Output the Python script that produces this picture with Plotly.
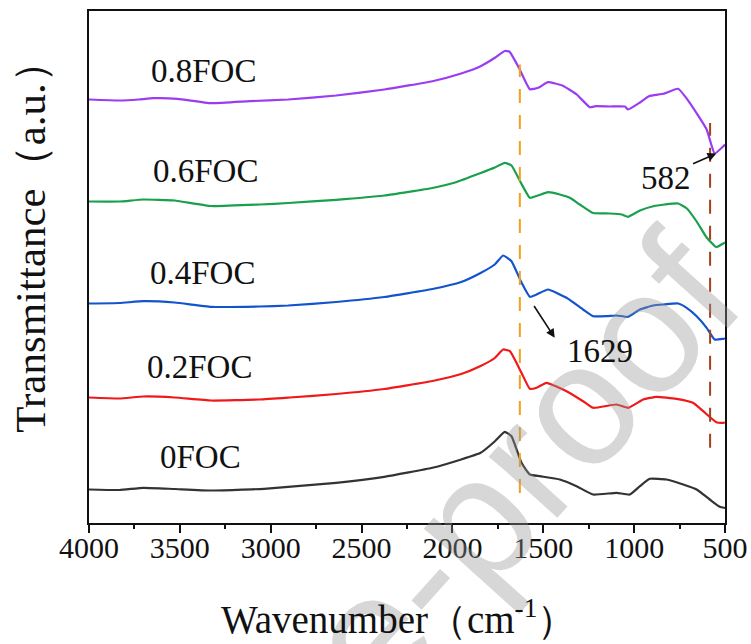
import plotly.graph_objects as go

# FTIR spectra of the FOC series, stacked with vertical offsets (a.u.)
wn_08 = [4000, 3832, 3727, 3645, 3513, 3328, 3116, 2904, 2640, 2375, 2110, 1952, 1845, 1766, 1712,
         1687, 1634, 1574, 1528, 1474, 1395, 1316, 1244, 1211, 1134, 1051, 1033, 968, 919, 839,
         758, 694, 601, 557, 510, 500]
t_08 = [4.235, 4.225, 4.235, 4.248, 4.242, 4.198, 4.218, 4.235, 4.275, 4.335, 4.418, 4.495, 4.568,
        4.652, 4.720, 4.715, 4.552, 4.338, 4.352, 4.408, 4.375, 4.285, 4.158, 4.168, 4.165, 4.165,
        4.135, 4.205, 4.268, 4.292, 4.342, 4.202, 3.935, 3.695, 3.765, 3.785]

wn_06 = [4000, 3832, 3700, 3529, 3328, 3061, 2904, 2640, 2375, 2110, 1976, 1844, 1767, 1712, 1675,
         1624, 1574, 1530, 1474, 1409, 1354, 1299, 1226, 1134, 1068, 1033, 968, 895, 831, 758,
         710, 656, 601, 548, 510, 500]
t_06 = [3.215, 3.215, 3.235, 3.225, 3.170, 3.185, 3.200, 3.232, 3.275, 3.350, 3.410, 3.500, 3.555,
        3.602, 3.575, 3.405, 3.252, 3.275, 3.308, 3.285, 3.252, 3.185, 3.100, 3.095, 3.085, 3.062,
        3.125, 3.168, 3.185, 3.195, 3.145, 3.015, 2.855, 2.758, 2.795, 2.805]

wn_04 = [4000, 3832, 3700, 3529, 3328, 3061, 2904, 2640, 2375, 2110, 1952, 1845, 1767, 1721, 1675,
         1620, 1574, 1537, 1474, 1372, 1281, 1226, 1152, 1097, 1033, 968, 895, 840, 758, 711,
         656, 601, 557, 510, 500]
t_04 = [2.195, 2.200, 2.218, 2.205, 2.162, 2.165, 2.175, 2.210, 2.260, 2.340, 2.410, 2.500, 2.585,
        2.675, 2.618, 2.405, 2.262, 2.285, 2.335, 2.252, 2.135, 2.068, 2.068, 2.075, 2.062, 2.135,
        2.175, 2.185, 2.195, 2.152, 2.068, 1.952, 1.835, 1.842, 1.845]

wn_02 = [4000, 3832, 3700, 3529, 3328, 3061, 2896, 2640, 2375, 2110, 1952, 1845, 1767, 1721, 1684,
         1620, 1574, 1537, 1482, 1372, 1281, 1226, 1097, 1033, 950, 877, 767, 676, 620, 548,
         510, 500]
t_02 = [1.255, 1.245, 1.265, 1.255, 1.225, 1.235, 1.255, 1.290, 1.340, 1.420, 1.490, 1.570, 1.650,
        1.735, 1.718, 1.502, 1.342, 1.352, 1.402, 1.318, 1.218, 1.152, 1.185, 1.152, 1.235, 1.262,
        1.242, 1.202, 1.118, 1.008, 1.002, 1.005]

wn_00 = [4000, 3832, 3700, 3529, 3328, 3037, 2640, 2375, 2110, 1952, 1845, 1766, 1712, 1675, 1620,
         1574, 1519, 1409, 1317, 1226, 1097, 1024, 968, 914, 822, 730, 656, 584, 529, 500]
t_00 = [0.335, 0.330, 0.352, 0.340, 0.325, 0.342, 0.402, 0.462, 0.552, 0.635, 0.702, 0.818, 0.912,
        0.868, 0.602, 0.485, 0.468, 0.435, 0.368, 0.285, 0.302, 0.285, 0.368, 0.442, 0.435, 0.385,
        0.335, 0.235, 0.162, 0.150]

series_names = ["0.8FOC", "0.6FOC", "0.4FOC", "0.2FOC", "0FOC"]
series_colors = ["#9A3CF0", "#18A04C", "#1254CC", "#F01818", "#333333"]
series_wn = [wn_08, wn_06, wn_04, wn_02, wn_00]
series_t = [t_08, t_06, t_04, t_02, t_00]

# label anchor (wavenumber, a.u.) for each spectrum name
label_wn = [3370, 3358, 3375, 3394, 3386]
label_t = [4.525, 3.525, 2.505, 1.565, 0.665]

# marked bands
band_1629 = 1629
band_582 = 582
band_1629_span = [0.30, 4.585]
band_582_span = [0.752, 4.00]

SERIF = "Liberation Serif"

fig = go.Figure()

for wn, t, col in zip(series_wn, series_t, series_colors):
    fig.add_trace(go.Scatter(x=wn, y=t, mode="lines",
                             line=dict(color=col, width=2.2, shape="spline", smoothing=0.4),
                             showlegend=False, hoverinfo="skip"))

fig.add_trace(go.Scatter(x=[band_1629, band_1629], y=band_1629_span, mode="lines",
                         line=dict(color="#EFA31D", width=2, dash="14px,12px"),
                         showlegend=False, hoverinfo="skip"))
fig.add_trace(go.Scatter(x=[band_582, band_582], y=band_582_span, mode="lines",
                         line=dict(color="#A3411C", width=2, dash="14px,12px"),
                         showlegend=False, hoverinfo="skip"))

annotations = []
# faint diagonal watermark
annotations.append(dict(text="Journal Pre-proof", xref="paper", yref="paper", x=0.262, y=-0.468,
                        xanchor="center", yanchor="middle", showarrow=False, textangle=-48,
                        font=dict(family="Liberation Sans", size=174,
                                  color="rgba(150,150,150,0.38)")))

for name, lx, ly in zip(series_names, label_wn, label_t):
    annotations.append(dict(text=name, x=lx, y=ly, xref="x", yref="y", showarrow=False,
                            xanchor="center", yanchor="middle",
                            font=dict(family=SERIF, size=33, color="#111111")))

annotations.append(dict(text="1629", x=1189, y=1.718, xref="x", yref="y", showarrow=False,
                        xanchor="center", yanchor="middle", font=dict(family=SERIF, size=33, color="#111111")))
annotations.append(dict(text="", x=1437, y=1.852, ax=1556, ay=2.185, xref="x", yref="y",
                        axref="x", ayref="y", showarrow=True, arrowhead=2, arrowsize=1.1,
                        arrowwidth=1.6, arrowcolor="#111111"))
annotations.append(dict(text="582", x=822, y=3.452, xref="x", yref="y", showarrow=False,
                        xanchor="center", yanchor="middle", font=dict(family=SERIF, size=33, color="#111111")))
annotations.append(dict(text="", x=548, y=3.695, ax=684, ay=3.585, xref="x", yref="y",
                        axref="x", ayref="y", showarrow=True, arrowhead=2, arrowsize=1.1,
                        arrowwidth=1.6, arrowcolor="#111111"))

# axis titles
annotations.append(dict(text="Transmittance（a.u.）", xref="paper", yref="paper", x=-0.092, y=0.56,
                        xanchor="center", yanchor="middle", showarrow=False, textangle=-90,
                        font=dict(family=SERIF, size=43, color="#111111")))
annotations.append(dict(text="Wavenumber（cm<sup>-1</sup>）", xref="paper", yref="paper", x=0.486, y=-0.183,
                        xanchor="center", yanchor="middle", showarrow=False,
                        font=dict(family=SERIF, size=39, color="#111111")))

fig.update_layout(
    width=751, height=644,
    margin=dict(l=89, r=26, t=11, b=121),
    paper_bgcolor="white", plot_bgcolor="white",
    annotations=annotations,
    font=dict(family=SERIF, color="#111111"),
)
fig.update_xaxes(range=[4000, 500], tickmode="array", automargin=False,
                 tickvals=[4000, 3500, 3000, 2500, 2000, 1500, 1000, 500],
                 ticktext=["4000", "3500", "3000", "2500", "2000", "1500", "1000", "500"],
                 ticks="outside", ticklen=8, tickwidth=1.5, tickcolor="#111111",
                 ticklabelstandoff=-11,
                 minor=dict(ticks="outside", ticklen=4, tickwidth=1.5, tickcolor="#111111",
                            tickvals=[3750, 3250, 2750, 2250, 1750, 1250, 750]),
                 showline=True, linecolor="#111111", linewidth=1.5, mirror=True,
                 showgrid=False, zeroline=False,
                 tickfont=dict(family=SERIF, size=30, color="#111111"))
fig.update_yaxes(range=[0, 5.12], showticklabels=False, ticks="", automargin=False,
                 showline=True, linecolor="#111111", linewidth=1.5, mirror=True,
                 showgrid=False, zeroline=False)

fig.write_html("out.html")
